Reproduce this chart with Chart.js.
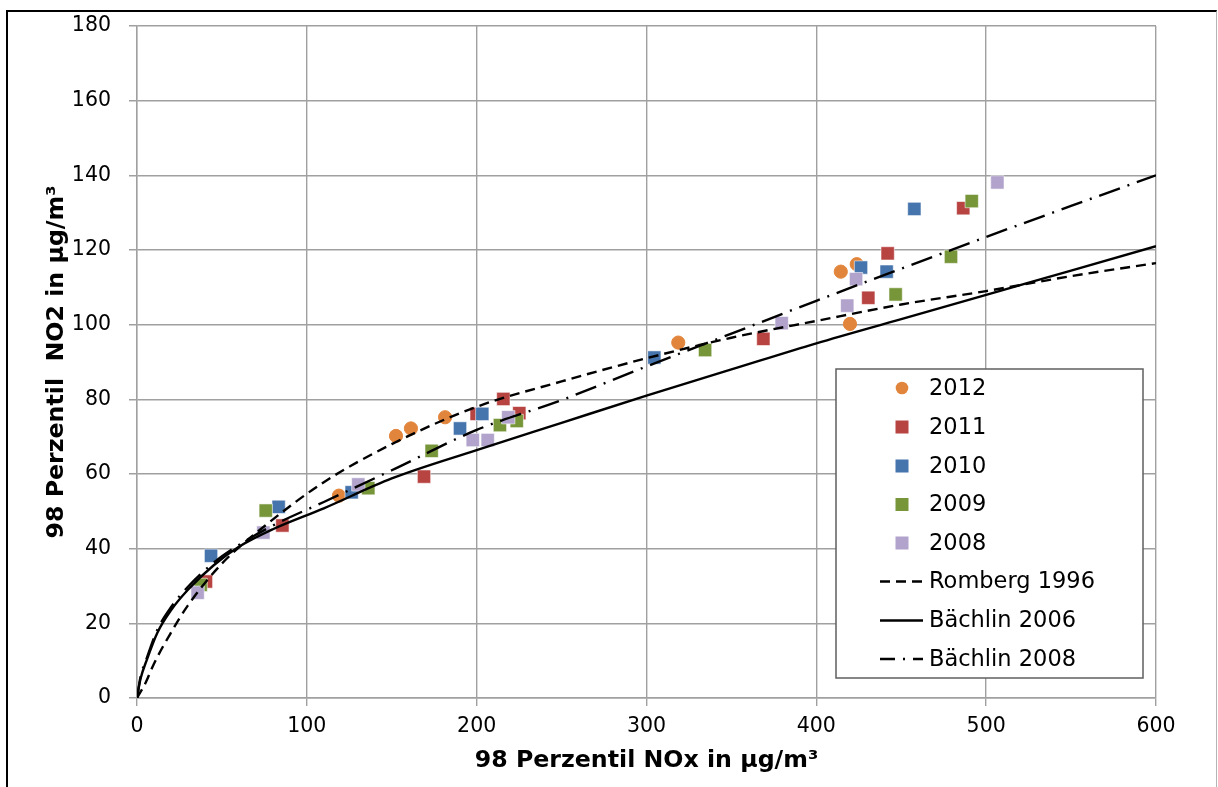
<!DOCTYPE html>
<html><head><meta charset="utf-8">
<script src="https://cdn.jsdelivr.net/npm/chart.js@4.4.1/dist/chart.umd.min.js"></script>
<style>
html,body{margin:0;padding:0;background:#fff;}
#wrap{position:absolute;left:0;top:0;width:1218px;height:787px;overflow:hidden;}
#frame{position:absolute;left:6px;top:10px;width:1208px;height:800px;border-left:2px solid #000;border-top:2px solid #000;border-right:1px solid #b4b4b4;pointer-events:none;}
canvas{position:absolute;left:0;top:0;}
</style></head><body>
<div id="wrap"><canvas id="c" width="1218" height="787" style="width:1218px;height:787px"></canvas><div id="frame"></div></div>
<script>
// ---- data ----
const x2012 = [118.9, 152.5, 161.3, 181.4, 318.7, 414.4, 423.8, 419.8];
const y2012 = [54.2, 70.2, 72.2, 75.2, 95.2, 114.2, 116.2, 100.2];
const x2011 = [40.6, 85.6, 169.0, 200.0, 215.7, 225.1, 368.8, 430.6, 442.0, 486.5];
const y2011 = [31.2, 46.2, 59.3, 76.1, 80.1, 76.3, 96.2, 107.2, 119.1, 131.2];
const x2010 = [43.6, 83.4, 126.4, 190.2, 203.3, 304.6, 426.3, 441.4, 457.7];
const y2010 = [38.1, 51.2, 55.1, 72.2, 76.1, 91.2, 115.3, 114.2, 131.0];
const x2009 = [37.5, 75.8, 136.2, 173.5, 213.7, 223.6, 334.5, 446.7, 479.3, 491.5];
const y2009 = [30.3, 50.2, 56.2, 66.2, 73.1, 74.2, 93.2, 108.1, 118.2, 133.1];
const x2008 = [35.7, 74.4, 130.3, 197.7, 206.5, 218.6, 379.6, 418.2, 423.4, 506.6];
const y2008 = [28.2, 44.3, 57.2, 69.1, 69.1, 75.2, 100.4, 105.1, 112.2, 138.1];

const romX = [0, 5, 10, 20, 30, 50, 75, 110, 150, 200, 250, 300, 350, 400, 450, 500, 550, 600];
const romY = [0, 4, 9.2, 17.5, 24.8, 36, 46, 57.8, 68, 78, 84.8, 91, 96.5, 101, 105.4, 109, 113, 116.5];
const b06X = [0, 2, 6, 12, 20, 30, 45, 60, 80, 110, 150, 200, 250, 300, 350, 400, 450, 500, 550, 600];
const b06Y = [0, 5, 10.5, 17.5, 23.5, 29, 35.5, 40.5, 45.2, 50.8, 58.8, 66.4, 73.7, 81, 88, 95, 101.5, 108, 114.5, 121];
const b08X = [0, 2, 6, 12, 20, 30, 45, 60, 80, 110, 150, 200, 250, 300, 350, 400, 450, 500, 550, 600];
const b08Y = [0, 5.5, 11, 18.3, 24.3, 29.8, 36.2, 41, 46.2, 52.5, 61, 71.8, 79.8, 88.8, 97.6, 106.4, 115, 123.5, 131.8, 140];

const xTicks = [0, 100, 200, 300, 400, 500, 600];
const yTicks = [0, 20, 40, 60, 80, 100, 120, 140, 160, 180];
const seriesNames = ['2012', '2011', '2010', '2009', '2008', 'Romberg 1996', 'Bächlin 2006', 'Bächlin 2008'];
const xTitle = '98 Perzentil NOx in µg/m³';
const yTitle = '98 Perzentil  NO2 in µg/m³';

const zip = (xs, ys) => xs.map((x, i) => ({x: x, y: ys[i]}));

const colors = {
  '2012': '#E2853C', '2011': '#B84442', '2010': '#4675AD', '2009': '#77963A', '2008': '#B1A3CB'
};
const GRID = '#a0a0a0';
const FONT = 'DejaVu Sans, Verdana, sans-serif';

function pointDs(name, xs, ys, style, order) {
  return {
    label: name, data: zip(xs, ys), order: order,
    pointStyle: style,
    pointRadius: style === 'circle' ? 6.6 : 9.4,
    pointHoverRadius: style === 'circle' ? 6.6 : 9.4,
    backgroundColor: colors[name],
    borderColor: style === 'circle' ? colors[name] : 'rgba(255,255,255,0.55)',
    borderWidth: 1,
    showLine: false
  };
}
function lineDs(name, xs, ys, dash) {
  return {
    label: name, data: zip(xs, ys), order: 0,
    showLine: true, pointRadius: 0, pointHoverRadius: 0,
    borderColor: '#000', backgroundColor: '#000', borderWidth: 2.4,
    borderDash: dash, cubicInterpolationMode: 'monotone', fill: false
  };
}

const datasets = [
  pointDs('2012', x2012, y2012, 'circle', 6),
  pointDs('2011', x2011, y2011, 'rect', 5),
  pointDs('2010', x2010, y2010, 'rect', 4),
  pointDs('2009', x2009, y2009, 'rect', 3),
  pointDs('2008', x2008, y2008, 'rect', 2),
  lineDs('Romberg 1996', romX, romY, [10, 6]),
  lineDs('Bächlin 2006', b06X, b06Y, []),
  lineDs('Bächlin 2008', b08X, b08Y, [22, 8, 2, 8])
];

const legendPlugin = {
  id: 'boxLegend',
  afterDraw(chart) {
    const ctx = chart.ctx;
    const L = 836, T = 369, W = 307, H = 309;
    ctx.save();
    ctx.fillStyle = '#fff';
    ctx.fillRect(L, T, W, H);
    ctx.strokeStyle = '#5f5f5f';
    ctx.lineWidth = 1.5;
    ctx.strokeRect(L, T, W, H);
    const rowY = [388, 427, 466, 504.5, 543, 581.5, 620.5, 659];
    ctx.font = '22.5px ' + FONT;
    ctx.textBaseline = 'middle';
    ctx.textAlign = 'left';
    seriesNames.forEach((name, i) => {
      const y = rowY[i];
      const ds = datasets[i];
      if (i === 0) {
        ctx.fillStyle = ds.backgroundColor;
        ctx.beginPath(); ctx.arc(902, y, 6.3, 0, Math.PI * 2); ctx.fill();
      } else if (i < 5) {
        ctx.fillStyle = ds.backgroundColor;
        ctx.fillRect(895.5, y - 6.5, 13, 13);
      } else {
        ctx.strokeStyle = '#000';
        ctx.lineWidth = 2.4;
        ctx.setLineDash(i === 5 ? [10, 6] : (i === 7 ? [15, 8, 2, 8] : []));
        ctx.beginPath(); ctx.moveTo(880, y); ctx.lineTo(923, y); ctx.stroke();
        ctx.setLineDash([]);
      }
      ctx.fillStyle = '#000';
      ctx.fillText(name, 929, y + 1);
    });
    ctx.restore();
  }
};

new Chart(document.getElementById('c'), {
  type: 'scatter',
  data: {datasets: datasets},
  options: {
    responsive: false, animation: false,
    layout: {autoPadding: false, padding: {left: 0, right: 62, top: 26, bottom: 0}},
    plugins: {legend: {display: false}, tooltip: {enabled: false}},
    scales: {
      x: {
        type: 'linear', min: 0, max: 600,
        afterBuildTicks(s) { s.ticks = xTicks.map(v => ({value: v})); },
        afterFit(s) { s.height = 89; },
        ticks: {color: '#000', font: {family: FONT, size: 20.5}, padding: 8, maxRotation: 0},
        grid: {color: GRID, lineWidth: 1.4, tickLength: 8, tickColor: GRID},
        border: {color: GRID, width: 1.4},
        title: {display: true, text: xTitle, color: '#000', font: {family: FONT, size: 23.7, weight: 'bold'}, padding: {top: 0, bottom: 12}}
      },
      y: {
        type: 'linear', min: 0, max: 180,
        afterBuildTicks(s) { s.ticks = yTicks.map(v => ({value: v})); },
        afterFit(s) { s.width = 137; },
        ticks: {color: '#000', font: {family: FONT, size: 20.5}, padding: 0},
        grid: {color: GRID, lineWidth: 1.4, tickLength: 26, tickColor: GRID, tickBorderDash: [0, 18, 9, 200]},
        border: {color: GRID, width: 1.4},
        title: {display: true, text: yTitle, color: '#000', font: {family: FONT, size: 23.7, weight: 'bold'}, padding: {top: 43, bottom: 0}}
      }
    }
  },
  plugins: [legendPlugin]
});
</script>
</body></html>
